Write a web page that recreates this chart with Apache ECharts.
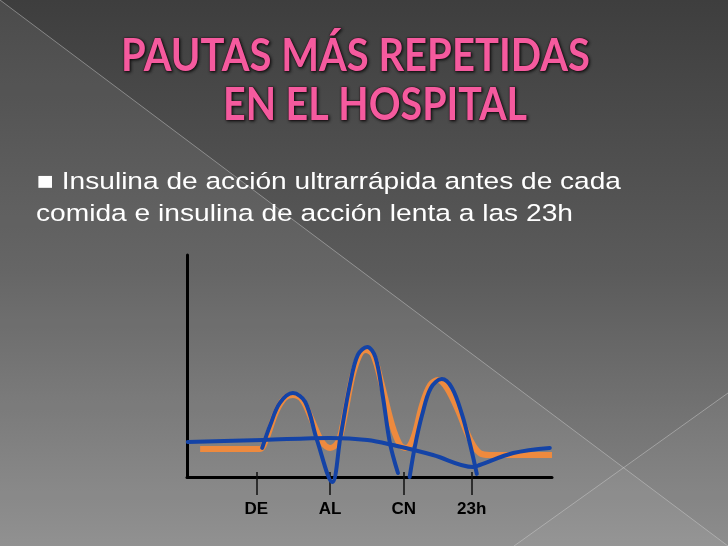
<!DOCTYPE html>
<html><head><meta charset="utf-8">
<script src="https://cdn.jsdelivr.net/npm/echarts@6/dist/echarts.min.js"></script>
<style>html,body{margin:0;padding:0;background:#555}#c{width:728px;height:546px}</style>
</head><body><div id="c"></div>
<script>
// ---- data ----
const titleLines = ['PAUTAS MÁS REPETIDAS', 'EN EL HOSPITAL'];
const bulletLines = ['■ Insulina de acción ultrarrápida antes de cada', 'comida e insulina de acción lenta a las 23h'];
const tickLabels = ['DE', 'AL', 'CN', '23h'];
const tickPositions = [0.95, 1.96, 2.97, 3.90];
// total insulin profile (orange)
const totalInsulin = [
  [0.18,1.26],[1.00,1.26],[1.08,1.67],[1.22,2.93],[1.34,3.56],[1.45,3.69],[1.58,3.47],[1.71,2.57],
  [1.85,1.58],[1.96,1.31],[2.07,1.58],[2.16,2.79],[2.27,4.59],[2.37,5.54],[2.45,5.72],[2.55,5.50],
  [2.67,4.14],[2.81,2.34],[2.92,1.44],[3.00,1.31],[3.10,1.76],[3.22,3.24],[3.33,4.14],[3.44,4.37],
  [3.56,4.01],[3.71,3.02],[3.88,1.67],[4.01,1.08],[4.15,0.99],[5.00,0.99]
];
// rapid insulin breakfast + lunch (blue)
const rapidBreakfastLunch = [
  [1.03,1.31],[1.14,2.34],[1.27,3.33],[1.45,3.78],[1.62,3.38],[1.78,1.67],[1.99,-0.23],[2.10,1.76],
  [2.23,4.14],[2.34,5.50],[2.47,5.86],[2.58,5.41],[2.68,3.69],[2.78,1.53],[2.89,0.18]
];
// rapid insulin dinner (blue)
const rapidDinner = [
  [3.05,0.00],[3.12,1.35],[3.22,2.79],[3.34,4.01],[3.49,4.41],[3.63,4.01],[3.77,2.79],[3.88,1.44],[3.97,0.14]
];
// slow (basal) insulin (blue)
const basalInsulin = [
  [0.01,1.58],[1.04,1.67],[1.96,1.76],[2.47,1.67],[2.82,1.44],[3.37,0.99],[3.92,0.45],[4.01,0.54],[4.47,1.08],[4.97,1.31]
];

// ---- layout helpers ----
const mctx = document.createElement('canvas').getContext('2d');
function measure(text, font) { mctx.font = font; return mctx.measureText(text).width; }
const titleFont = 'bold 45px Lato';
const bodyFont = '24.5px "Liberation Sans", Arial, sans-serif';
const t1s = 469 / measure(titleLines[0], titleFont);
const t2s = 304 / measure(titleLines[1], titleFont);
const b1s = 584 / measure(bulletLines[0], bodyFont);
const b2s = 537 / measure(bulletLines[1], bodyFont);

const chart = echarts.init(document.getElementById('c'), null, {renderer: 'canvas'});
const orange = '#ee8a3e', blue = '#1443a6';
function titleText(text, x, y, s) {
  return {type: 'text', x: x, y: y, scaleX: s, z: 100,
    style: {text: text, x: 0, y: 0, font: titleFont, fill: '#f55a9e',
      align: 'center', textAlign: 'center', verticalAlign: 'middle', textVerticalAlign: 'middle',
      stroke: 'rgba(70,20,40,0.55)', lineWidth: 1.2,
      textShadowColor: 'rgba(0,0,0,0.8)', textShadowBlur: 3, textShadowOffsetX: 1, textShadowOffsetY: 1,
      shadowColor: 'rgba(0,0,0,0.8)', shadowBlur: 3, shadowOffsetX: 1, shadowOffsetY: 1}};
}
function bodyText(text, x, y, s) {
  return {type: 'text', x: x, y: y, scaleX: s, z: 100,
    style: {text: text, x: 0, y: 0, font: bodyFont, fill: '#ffffff',
      align: 'left', textAlign: 'left', verticalAlign: 'middle', textVerticalAlign: 'middle'}};
}
const option = {
  animation: false,
  backgroundColor: {type: 'linear', x: 0, y: 0, x2: 0, y2: 1,
    colorStops: [{offset: 0, color: '#3e3e3e'}, {offset: 0.5, color: '#5b5b5b'}, {offset: 1, color: '#898989'}]},
  graphic: {elements: [
    {type: 'polygon', z: -10, silent: true, shape: {points: [[0,0],[0,546],[728,546]]}, style: {fill: 'rgba(255,255,255,0.07)'}},
    {type: 'polygon', z: -10, silent: true, shape: {points: [[514,546],[728,393],[728,546]]}, style: {fill: 'rgba(255,255,255,0.04)'}},
    {type: 'line', z: -9, silent: true, shape: {x1: 0, y1: 0, x2: 728, y2: 546}, style: {stroke: 'rgba(210,210,210,0.45)', lineWidth: 1}},
    {type: 'line', z: -9, silent: true, shape: {x1: 514, y1: 546, x2: 728, y2: 393}, style: {stroke: 'rgba(210,210,210,0.45)', lineWidth: 1}},
    titleText(titleLines[0], 355.5, 56, t1s),
    titleText(titleLines[1], 375, 105.5, t2s),
    bodyText(bulletLines[0], 37, 182, b1s),
    bodyText(bulletLines[1], 36, 214, b2s)
  ]},
  grid: {left: 187, top: 255, width: 365, height: 222, containLabel: false},
  xAxis: [{
    type: 'value', min: 0, max: 5,
    axisLine: {show: true, onZero: false, lineStyle: {color: '#000', width: 3}},
    splitLine: {show: false},
    axisTick: {show: true, customValues: tickPositions, length: 18, lineStyle: {color: '#111', width: 1.5}},
    axisLabel: {show: true, customValues: tickPositions, margin: 24, color: '#000',
      fontFamily: '"Liberation Sans", Arial, sans-serif', fontWeight: 'bold', fontSize: 17,
      formatter: function (v) {
        let best = 0;
        for (let i = 0; i < tickPositions.length; i++) if (Math.abs(tickPositions[i] - v) < Math.abs(tickPositions[best] - v)) best = i;
        return tickLabels[best];
      }}
  }, {
    type: 'value', min: 0, max: 5, position: 'bottom',
    axisLine: {show: false}, splitLine: {show: false}, axisLabel: {show: false},
    axisTick: {show: true, inside: true, customValues: tickPositions, length: 5, lineStyle: {color: '#111', width: 1.5}}
  }],
  yAxis: {
    type: 'value', min: 0, max: 10,
    axisLine: {show: true, lineStyle: {color: '#000', width: 3}},
    axisTick: {show: false}, axisLabel: {show: false}, splitLine: {show: false}
  },
  series: [
    {type: 'line', data: totalInsulin, smooth: 0.35, showSymbol: false, clip: false, z: 3,
      lineStyle: {color: orange, width: 6, cap: 'butt'}},
    {type: 'line', data: basalInsulin, smooth: 0.35, showSymbol: false, clip: false, z: 4,
      lineStyle: {color: blue, width: 4, cap: 'round'}},
    {type: 'line', data: rapidBreakfastLunch, smooth: 0.35, showSymbol: false, clip: false, z: 4,
      lineStyle: {color: blue, width: 4, cap: 'round'}},
    {type: 'line', data: rapidDinner, smooth: 0.35, showSymbol: false, clip: false, z: 4,
      lineStyle: {color: blue, width: 4, cap: 'round'}}
  ]
};
chart.setOption(option);
</script></body></html>
